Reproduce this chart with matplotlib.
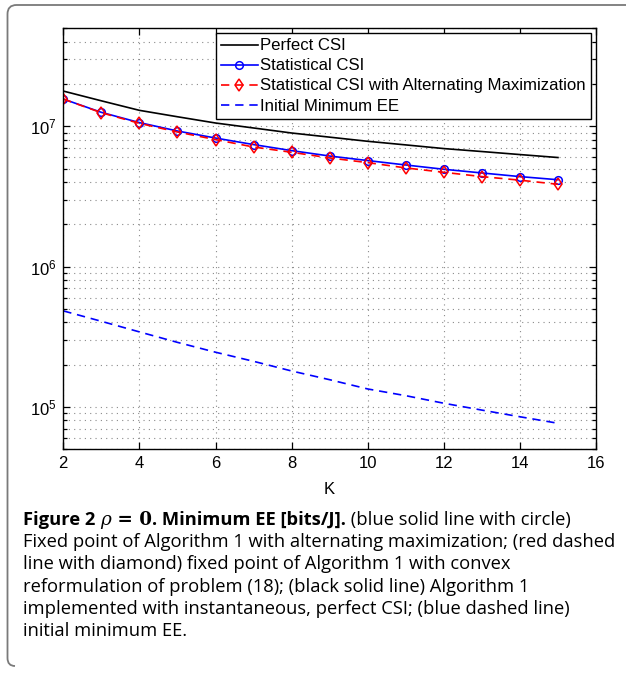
import matplotlib
matplotlib.use("Agg")
import matplotlib.pyplot as plt
from matplotlib.patches import PathPatch
from matplotlib.path import Path
from matplotlib.ticker import LogLocator, NullFormatter

# ---------------- data ----------------
K = [2, 3, 4, 5, 6, 7, 8, 9, 10, 11, 12, 13, 14, 15]
perfect_csi = [1.784e7, 1.52e7, 1.30e7, 1.17e7, 1.056e7, 9.73e6, 8.96e6,
               8.37e6, 7.82e6, 7.37e6, 6.94e6, 6.61e6, 6.29e6, 5.99e6]
statistical_csi = [1.565e7, 1.258e7, 1.063e7, 9.26e6, 8.25e6, 7.41e6, 6.71e6,
                   6.14e6, 5.70e6, 5.30e6, 4.94e6, 4.65e6, 4.38e6, 4.16e6]
statistical_alt = [1.565e7, 1.25e7, 1.05e7, 9.11e6, 8.04e6, 7.12e6, 6.53e6,
                   5.95e6, 5.51e6, 5.05e6, 4.70e6, 4.38e6, 4.13e6, 3.86e6]
initial_min_ee = [4.83e5, 4.07e5, 3.42e5, 2.88e5, 2.45e5, 2.11e5, 1.80e5,
                  1.56e5, 1.34e5, 1.20e5, 1.06e5, 9.47e4, 8.49e4, 7.63e4]
legend_labels = ["Perfect CSI", "Statistical CSI",
                 "Statistical CSI with Alternating Maximization",
                 "Initial Minimum EE"]
x_ticks = [2, 4, 6, 8, 10, 12, 14, 16]
x_label = "K"

W, H = 626, 677
plt.rcParams['font.family'] = ['Liberation Sans', 'DejaVu Sans']
plt.rcParams['mathtext.default'] = 'regular'

fig = plt.figure(figsize=(W / 100, H / 100), dpi=100)
ax = fig.add_axes([63.3 / W, 1 - 449 / H, (596 - 63.3) / W, (449 - 28.3) / H])

ax.plot(K, perfect_csi, color='black', lw=1.2, label=legend_labels[0])
ax.plot(K, statistical_csi, color='blue', lw=1.2, marker='o', ms=5.5,
        mfc='none', mec='blue', mew=1.1, label=legend_labels[1])
ax.plot(K, statistical_alt, color='red', lw=1.2, ls=(0, (5, 3.5)), marker='d',
        ms=6, mfc='none', mec='red', mew=1.1, label=legend_labels[2])
ax.plot(K, initial_min_ee, color='blue', lw=1.2, ls=(0, (5, 3.5)),
        label=legend_labels[3])

ax.set_yscale('log')
ax.set_xlim(2, 16)
ax.set_ylim(5e4, 5e7)
ax.set_xticks(x_ticks)
ax.set_xticklabels([str(v) for v in x_ticks])
ax.yaxis.set_major_locator(LogLocator(base=10, numticks=10))
ax.yaxis.set_minor_locator(LogLocator(base=10, subs=range(2, 10), numticks=20))
ax.yaxis.set_minor_formatter(NullFormatter())

grid_kw = dict(color='#8a8a8a', lw=0.8, ls=(0, (1, 3.8)))
ax.grid(True, which='major', axis='both', **grid_kw)
ax.grid(True, which='minor', axis='y', **grid_kw)

ax.tick_params(which='both', direction='in', top=True, right=True,
               labelsize=12, width=0.9, colors='black')
ax.tick_params(which='major', length=5, pad=5)
ax.tick_params(which='minor', length=3)
for s in ax.spines.values():
    s.set_linewidth(1.0)

ax.set_xlabel(x_label, fontsize=12, labelpad=8)

leg = ax.legend(loc='upper right', fontsize=12.1, frameon=True, fancybox=False,
                edgecolor='black', framealpha=1, borderaxespad=0.3,
                handlelength=2.2, handletextpad=0.15, labelspacing=0.3,
                borderpad=0.3)
leg.get_frame().set_linewidth(1.0)

# ---------------- border (top + left, rounded) ----------------
def px(x, y):
    return (x / W, 1 - y / H)

r = 9
verts = [px(15, 666), px(7.5, 666), px(7.5, 658),
         px(7.5, 5 + r), px(7.5, 5), px(7.5 + r, 5), px(640, 5)]
codes = [Path.MOVETO, Path.CURVE3, Path.CURVE3, Path.LINETO, Path.CURVE3,
         Path.CURVE3, Path.LINETO]
fig.patches.append(PathPatch(Path(verts, codes), transform=fig.transFigure,
                             fill=False, edgecolor='#7a7a7a', lw=1.3))

# ---------------- caption ----------------
cap_font = ['Open Sans', 'DejaVu Sans']
cap_size = 13.25
renderer = fig.canvas.get_renderer()

def put(x, y, s, **kw):
    t = fig.text(x / W, 1 - y / H, s, va='baseline', ha='left', **kw)
    bb = t.get_window_extent(renderer=renderer)
    return x + bb.width

y0 = 525
x = 23
x = put(x, y0, "Figure 2 ", family=cap_font, fontweight='bold', fontsize=cap_size)
x = put(x, y0, "ρ", family='DejaVu Serif', style='italic', fontsize=cap_size)
x = put(x, y0, " = 0", family='DejaVu Serif', fontweight='bold', fontsize=cap_size)
x = put(x, y0, ". Minimum EE [bits/J].", family=cap_font, fontweight='bold',
        fontsize=cap_size)
x = put(x, y0, " (blue solid line with circle)", family=cap_font, fontsize=cap_size)

lines = [
    "Fixed point of Algorithm 1 with alternating maximization; (red dashed",
    "line with diamond) fixed point of Algorithm 1 with convex",
    "reformulation of problem (18); (black solid line) Algorithm 1",
    "implemented with instantaneous, perfect CSI; (blue dashed line)",
    "initial minimum EE.",
]
for i, ln in enumerate(lines):
    put(23, y0 + 22.2 * (i + 1), ln, family=cap_font, fontsize=cap_size)

fig.savefig("out.png", dpi=100)
